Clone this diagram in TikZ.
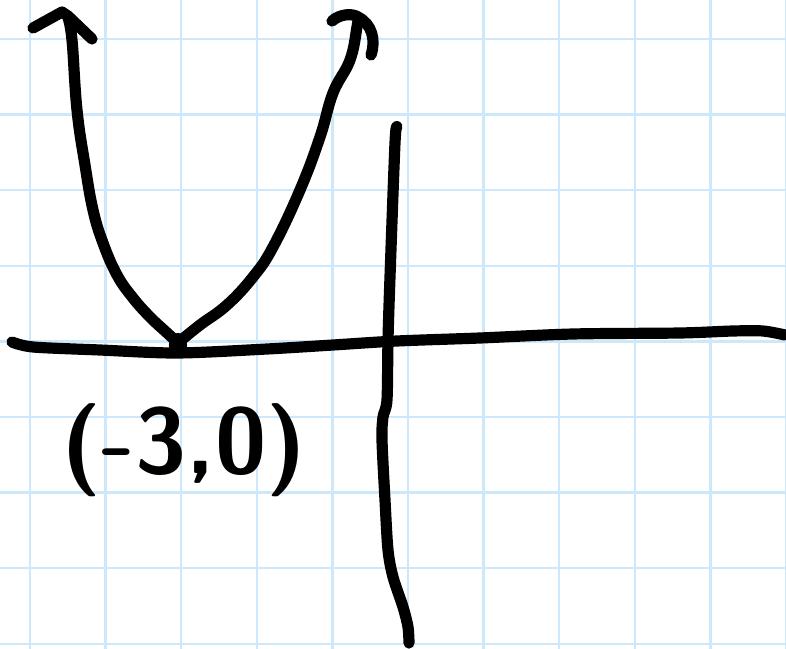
\documentclass[tikz,border=0pt]{standalone}
\usepackage{tikz}
\definecolor{gridblue}{RGB}{205,232,250}
\tikzset{pen/.style={line width=4.2pt, line cap=round, line join=round},
  paper/.style={gridblue, line width=0.9pt}}

\begin{document}
\begin{tikzpicture}[x=0.0132cm, y=-0.0132cm]
\useasboundingbox (0,0) rectangle (786,649);
\fill[white] (0,0) rectangle (786,649);
% Grid paper
\foreach \x in {0,...,10} {
  \draw[paper] (30+75.6*\x,0) -- (30+75.6*\x,649);
}
\foreach \y in {0,...,8} {
  \draw[paper] (0,39+75.6*\y) -- (786,39+75.6*\y);
}
% x-axis
\draw[pen] plot[smooth] coordinates {(12,342) (33,347) (100,350) (177,353) (267,349) (333,345) (397,341) (480,338) (573,334) (680,333) (733,331) (763,331) (785,335)};
% y-axis
\draw[pen] plot[smooth] coordinates {(397,127) (395,143) (390,277) (388,340) (387,400) (383,417) (382,440) (385,500) (388,550) (393,577) (403,607) (408,627) (409,643)};
% Parabola, left arm
\draw[pen] plot[smooth, tension=0.7] coordinates {(68,18) (72,40) (77,110) (85,165) (93,210) (103,243) (117,275) (133,298) (150,317) (165,331) (176,341)};
\draw[pen] (33,28) -- (62,12) -- (68,16) -- (92,39);
% Parabola, right arm
\draw[pen] plot[smooth, tension=0.7] coordinates {(179,342) (200,325) (227,305) (253,277) (273,247) (300,190) (320,137) (333,93) (350,60) (357,27) (358,18)};
\draw[pen] (332,21) .. controls (340,14) and (352,13) .. (358,17) .. controls (372,24) and (376,40) .. (371,55);
% Vertex
\coordinate (vertex) at (178,345);
\fill (vertex) ellipse [x radius=0.12cm, y radius=0.16cm];
\node[font=\fontsize{35}{38}\selectfont\sffamily\bfseries, inner sep=0pt] (vertexlabel) at (184,450) {(-3,0)};
\end{tikzpicture}
\end{document}
